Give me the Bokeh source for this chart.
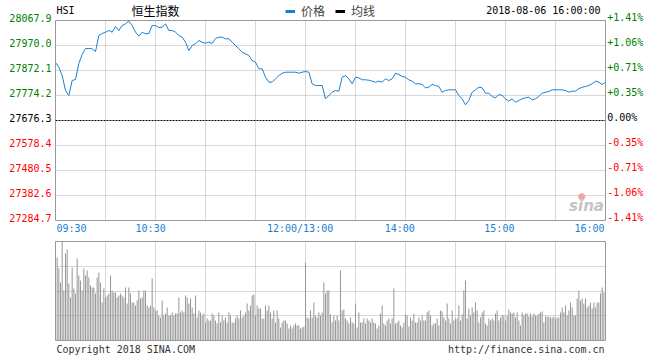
from bokeh.plotting import figure
from bokeh.models import (Range1d, FixedTicker, Span, Label, Legend, LegendItem)
from bokeh.layouts import column, row
from bokeh.core.properties import value
from bokeh.embed import file_html
from bokeh.resources import INLINE

MONO = "DejaVu Sans Mono"
CJK = "Noto Sans CJK SC"
BLUE = "#1b7fd1"

# ---------------- data ----------------
PREV_CLOSE = 27676.3
# HSI intraday price, one point every 2 minutes of trading (09:30 .. 16:00)
PRICE = [
    27903.4, 27885.0, 27852.5, 27793.8, 27774.2, 27832.9, 27836.8, 27899.5, 27934.7, 27958.2,
    27958.2, 27957.1, 27946.5, 28009.1, 28017.0, 28022.1, 28028.7, 28022.1, 28044.4, 28028.7,
    28048.3, 28055.0, 28065.1, 28048.3, 28022.1, 28006.4, 28022.1, 28015.8, 28017.0, 28048.3,
    28048.3, 28040.5, 28041.6, 28055.0, 28028.7, 28028.7, 28022.1, 28009.1, 28002.5, 27982.9,
    27950.4, 27970.0, 27976.6, 27989.6, 27982.9, 27979.0, 27982.9, 27977.8, 27997.4, 28002.5,
    28002.5, 27996.2, 27996.2, 27982.9, 27970.0, 27957.1, 27943.7, 27937.5, 27930.8, 27911.2,
    27904.6, 27878.7, 27878.7, 27845.8, 27826.3, 27826.3, 27839.6, 27852.5, 27861.5, 27865.4,
    27865.4, 27865.4, 27865.4, 27861.5, 27865.4, 27868.2, 27865.4, 27820.0, 27813.3, 27813.3,
    27813.3, 27761.3, 27774.2, 27787.1, 27793.8, 27791.0, 27845.8, 27852.5, 27839.6, 27820.0,
    27845.8, 27843.5, 27835.7, 27835.7, 27834.1, 27830.2, 27826.3, 27830.2, 27826.3, 27839.6,
    27832.9, 27839.6, 27861.5, 27856.4, 27848.6, 27845.8, 27835.7, 27830.2, 27820.0, 27820.0,
    27817.3, 27804.3, 27806.7, 27817.3, 27813.3, 27809.4, 27787.1, 27793.8, 27796.5, 27796.5,
    27796.5, 27774.2, 27761.3, 27737.8, 27754.6, 27787.1, 27796.5, 27806.7, 27804.3, 27783.2,
    27783.2, 27770.3, 27764.4, 27778.1, 27774.2, 27761.3, 27751.9, 27761.3, 27748.0, 27754.6,
    27761.3, 27765.2, 27767.5, 27757.3, 27761.3, 27770.3, 27783.2, 27787.1, 27789.8, 27796.5,
    27796.5, 27796.5, 27796.5, 27793.8, 27787.1, 27791.0, 27791.0, 27800.4, 27806.7, 27809.4,
    27813.3, 27820.0, 27830.2, 27826.3, 27817.3, 27826.3,
]
# per-minute volume (relative units), minutes 1 .. 330 of the session
VOLUME = [
    83, 72, 58, 99, 50, 87, 91, 57, 43, 73,
    52, 47, 82, 65, 60, 50, 72, 65, 70, 63,
    55, 53, 53, 47, 63, 68, 58, 38, 52, 43,
    45, 47, 65, 50, 48, 48, 43, 45, 47, 45,
    43, 53, 37, 53, 47, 38, 38, 35, 40, 50,
    42, 43, 50, 50, 35, 33, 35, 62, 33, 30,
    30, 25, 23, 40, 25, 27, 33, 25, 25, 28,
    25, 27, 27, 43, 28, 30, 28, 45, 43, 37,
    42, 33, 27, 45, 23, 30, 28, 25, 27, 18,
    22, 20, 20, 27, 25, 20, 17, 28, 18, 25,
    20, 23, 18, 28, 25, 18, 18, 22, 25, 22,
    30, 23, 25, 28, 37, 30, 35, 45, 46, 25,
    35, 32, 32, 22, 22, 35, 30, 35, 28, 22,
    30, 18, 30, 22, 13, 18, 20, 20, 17, 12,
    15, 12, 15, 17, 15, 15, 12, 13, 14, 78,
    23, 22, 30, 23, 38, 25, 23, 28, 25, 28, 58, 47, 50, 50,
    26, 18, 25, 20, 25, 20, 70, 30, 31, 22,
    20, 17, 23, 18, 17, 37, 13, 28, 18, 18,
    22, 17, 22, 20, 18, 22, 18, 17, 12, 15,
    27, 35, 17, 15, 20, 22, 17, 22, 52, 17,
    18, 20, 15, 13, 18, 26, 25, 14, 23, 20,
    27, 18, 18, 23, 20, 25, 20, 20, 28, 30,
    25, 15, 17, 17, 22, 15, 30, 29, 23, 20,
    37, 22, 17, 30, 20, 22, 22, 35, 20, 26,
    50, 60, 22, 32, 25, 33, 28, 38, 30, 18,
    23, 28, 30, 17, 15, 22, 20, 22, 20, 27,
    30, 20, 23, 25, 25, 20, 25, 31, 28, 27,
    28, 23, 28, 20, 15, 28, 25, 27, 27, 24,
    27, 24, 27, 25, 25, 27, 28, 29, 18, 24,
    24, 24, 23, 23, 24, 22, 23, 23, 28, 33,
    28, 35, 25, 30, 38, 33, 25, 25, 42, 50,
    40, 42, 37, 42, 33, 35, 38, 32, 38, 33,
    38, 38, 47, 53, 48, 62,
]
PRICE_TICKS = [28067.9, 27970.0, 27872.1, 27774.2, 27676.3, 27578.4, 27480.5, 27382.6, 27284.7]
PRICE_TICK_LABELS = ["28067.9", "27970.0", "27872.1", "27774.2", "27676.3",
                     "27578.4", "27480.5", "27382.6", "27284.7"]
PCT_TICK_LABELS = ["+1.41%", "+1.06%", "+0.71%", "+0.35%", "0.00%",
                   "-0.35%", "-0.71%", "-1.06%", "-1.41%"]
TICK_COLORS = ["#008000"] * 4 + ["#000000"] + ["#ff0000"] * 4
TIME_TICKS = [0, 60, 150, 210, 270, 330]          # trading minutes since 09:30
TIME_LABELS = ["09:30", "10:30", "12:00/13:00", "14:00", "15:00", "16:00"]
GRID_MINUTES = [30, 60, 90, 120, 150, 180, 210, 240, 270, 300]
VOL_MAX = 99
TITLE = "恒生指数"
SYMBOL = "HSI"
STAMP = "2018-08-06 16:00:00"
LEGEND_LABELS = ["价格", "均线"]
FOOT_LEFT = "Copyright 2018 SINA.COM"
FOOT_RIGHT = "http://finance.sina.com.cn"

price_minutes = [2 * i for i in range(len(PRICE))]
vol_minutes = [i + 1 for i in range(len(VOLUME))]
y_lo, y_hi = PRICE_TICKS[-1], PRICE_TICKS[0]
x_lo, x_hi = TIME_TICKS[0], TIME_TICKS[-1]

# ---------------- layout constants (pixels) ----------------
FRAME_W, FRAME_H = 550, 200
SIDE_W = 55            # space left / right of the panels
HDR_H = 20             # header strip height above the price frame
TIME_H = 14            # time-label strip height below the price frame
PX = (y_hi - y_lo) / FRAME_H          # price units per pixel
MPX = (x_hi - x_lo) / FRAME_W         # minutes per pixel


def blank(width, height, xr, yr, border=0):
    f = figure(width=width, height=height, x_range=xr, y_range=yr,
               x_axis_location=None, y_axis_location=None, tools="",
               output_backend="svg", toolbar_location=None,
               min_border=0, min_border_left=border, min_border_right=border)
    f.outline_line_color = None
    f.grid.visible = False
    f.background_fill_color = "white"
    f.border_fill_color = "white"
    return f


def style_grid(f):
    for g in (f.xgrid, f.ygrid):
        g.grid_line_color = "#b0b0b0"
        g.grid_line_dash = "1 1"
        g.grid_line_width = 1


# ---------------- price panel ----------------
p = figure(width=FRAME_W + 2, height=FRAME_H + 2,
           x_range=Range1d(x_lo, x_hi), y_range=Range1d(y_lo, y_hi),
           x_axis_location=None, y_axis_location=None, tools="",
           output_backend="svg", toolbar_location=None, min_border=1)
p.background_fill_color = "white"
p.border_fill_color = "white"
p.outline_line_color = "#999999"
p.outline_line_width = 1
p.xgrid.ticker = FixedTicker(ticks=GRID_MINUTES)
p.ygrid.ticker = FixedTicker(ticks=[t for t in PRICE_TICKS[1:-1] if t != PREV_CLOSE])
style_grid(p)
p.add_layout(Span(location=PREV_CLOSE, dimension="width", line_color="black",
                  line_dash="2 1", line_width=1))
p.line(price_minutes, PRICE, line_color=BLUE, line_width=1)

# sina watermark
p.add_layout(Label(x=526.5, y=25, x_units="screen", y_units="screen", text="●",
                   text_font="DejaVu Sans", text_font_size="9px", text_color="#f4a3ab",
                   text_align="center", text_baseline="middle"))
p.add_layout(Label(x=531, y=15, x_units="screen", y_units="screen", text="sina",
                   text_font="DejaVu Sans", text_font_size="15px", text_font_style="bold italic",
                   text_color="#c4c4c4", text_align="center", text_baseline="middle"))

# ---------------- left / right price-scale strips ----------------
side_h = HDR_H + FRAME_H + TIME_H
side_yr = Range1d(y_lo - TIME_H * PX, y_hi + HDR_H * PX)
left = blank(SIDE_W - 1, side_h, Range1d(0, SIDE_W - 1), side_yr)
left.text(x=[SIDE_W - 4] * len(PRICE_TICKS), y=PRICE_TICKS, text=PRICE_TICK_LABELS,
          text_color=TICK_COLORS, text_font=value(MONO), text_font_size=value("10px"),
          text_align="right", text_baseline="middle", y_offset=-3)
right = blank(SIDE_W - 1, side_h, Range1d(0, SIDE_W - 1), side_yr)
right.text(x=[0.7] * len(PRICE_TICKS), y=PRICE_TICKS, text=PCT_TICK_LABELS,
           text_color=TICK_COLORS, text_font=value(MONO), text_font_size=value("10px"),
           text_align="left", text_baseline="middle", y_offset=-3.5)

# ---------------- header strip ----------------
hdr = blank(FRAME_W + 2, HDR_H - 1, Range1d(x_lo - MPX, x_hi + MPX), Range1d(0, 1), border=1)
hdr.text(x=[x_lo], y=[0.5], text=[SYMBOL], text_font=value(MONO), text_font_size=value("10px"),
         text_align="left", text_baseline="middle", text_color="black")
hdr.text(x=[59.6], y=[0.5], text=[TITLE], text_font=value(CJK), text_font_size=value("12px"),
         text_align="center", text_baseline="middle", text_color="black")
hdr.text(x=[327.6], y=[0.5], text=[STAMP], text_font=value(MONO), text_font_size=value("10px"),
         text_align="right", text_baseline="middle", text_color="black")
# legend swatches: series lines kept below the visible strip, only their legend glyphs show
r_price_leg = hdr.line(x=[x_lo, x_hi], y=[-1, -1], line_color=BLUE, line_width=3)
r_avg_leg = hdr.line(x=[x_lo, x_hi], y=[-1, -1], line_color="black", line_width=3)
legend = Legend(items=[LegendItem(label=LEGEND_LABELS[0], renderers=[r_price_leg]),
                       LegendItem(label=LEGEND_LABELS[1], renderers=[r_avg_leg])],
                orientation="horizontal", location=(230, 0),
                label_text_font=CJK, label_text_font_size="12px",
                glyph_width=10, glyph_height=16, label_height=16,
                label_standoff=6, spacing=10, padding=0, margin=0,
                border_line_color=None, background_fill_alpha=0)
hdr.add_layout(legend)

# ---------------- time-label strip ----------------
tstrip = blank(FRAME_W + 2, TIME_H - 1, Range1d(x_lo - MPX, x_hi + MPX), Range1d(0, 1), border=1)
tstrip.text(x=TIME_TICKS[:1], y=[0.5], text=TIME_LABELS[:1], text_color=BLUE,
            text_font=value(MONO), text_font_size=value("10px"),
            text_align="left", text_baseline="middle")
tstrip.text(x=TIME_TICKS[1:-1], y=[0.5] * 4, text=TIME_LABELS[1:-1], text_color=BLUE,
            text_font=value(MONO), text_font_size=value("10px"),
            text_align="center", text_baseline="middle", x_offset=-5.5)
tstrip.text(x=TIME_TICKS[-1:], y=[0.5], text=TIME_LABELS[-1:], text_color=BLUE,
            text_font=value(MONO), text_font_size=value("10px"),
            text_align="right", text_baseline="middle")

# ---------------- volume panel ----------------
v = figure(width=FRAME_W + 2 * SIDE_W, height=107,
           x_range=Range1d(x_lo, x_hi), y_range=Range1d(0, VOL_MAX),
           x_axis_location=None, y_axis_location=None, tools="",
           output_backend="svg", toolbar_location=None,
           min_border_left=SIDE_W, min_border_right=SIDE_W, min_border_top=7, min_border_bottom=1)
v.background_fill_color = "white"
v.border_fill_color = "white"
v.outline_line_color = "#999999"
v.outline_line_width = 1
v.xgrid.ticker = FixedTicker(ticks=GRID_MINUTES)
v.ygrid.ticker = FixedTicker(ticks=[VOL_MAX * 0.25, VOL_MAX * 0.5, VOL_MAX * 0.75])
style_grid(v)
v.vbar(x=vol_minutes, top=VOLUME, width=0.62, fill_color="#999999", line_color=None)

# ---------------- footer strip (frame aligned with the volume panel) ----------------
foot = blank(FRAME_W + 2 * SIDE_W, 19, Range1d(x_lo - MPX, x_hi + MPX), Range1d(0, 1),
             border=SIDE_W)
foot.text(x=[x_lo], y=[0.56], text=[FOOT_LEFT], text_font=value(MONO),
          text_font_size=value("10px"), text_align="left", text_baseline="middle",
          text_color="#333333")
foot.text(x=[x_hi], y=[0.56], text=[FOOT_RIGHT], text_font=value(MONO),
          text_font_size=value("10px"), text_align="right", text_baseline="middle",
          text_color="#333333")

layout = column(row(left, column(hdr, p, tstrip, spacing=0), right, spacing=0),
                v, foot, spacing=0)
open("out.html", "w").write(file_html(layout, INLINE))
